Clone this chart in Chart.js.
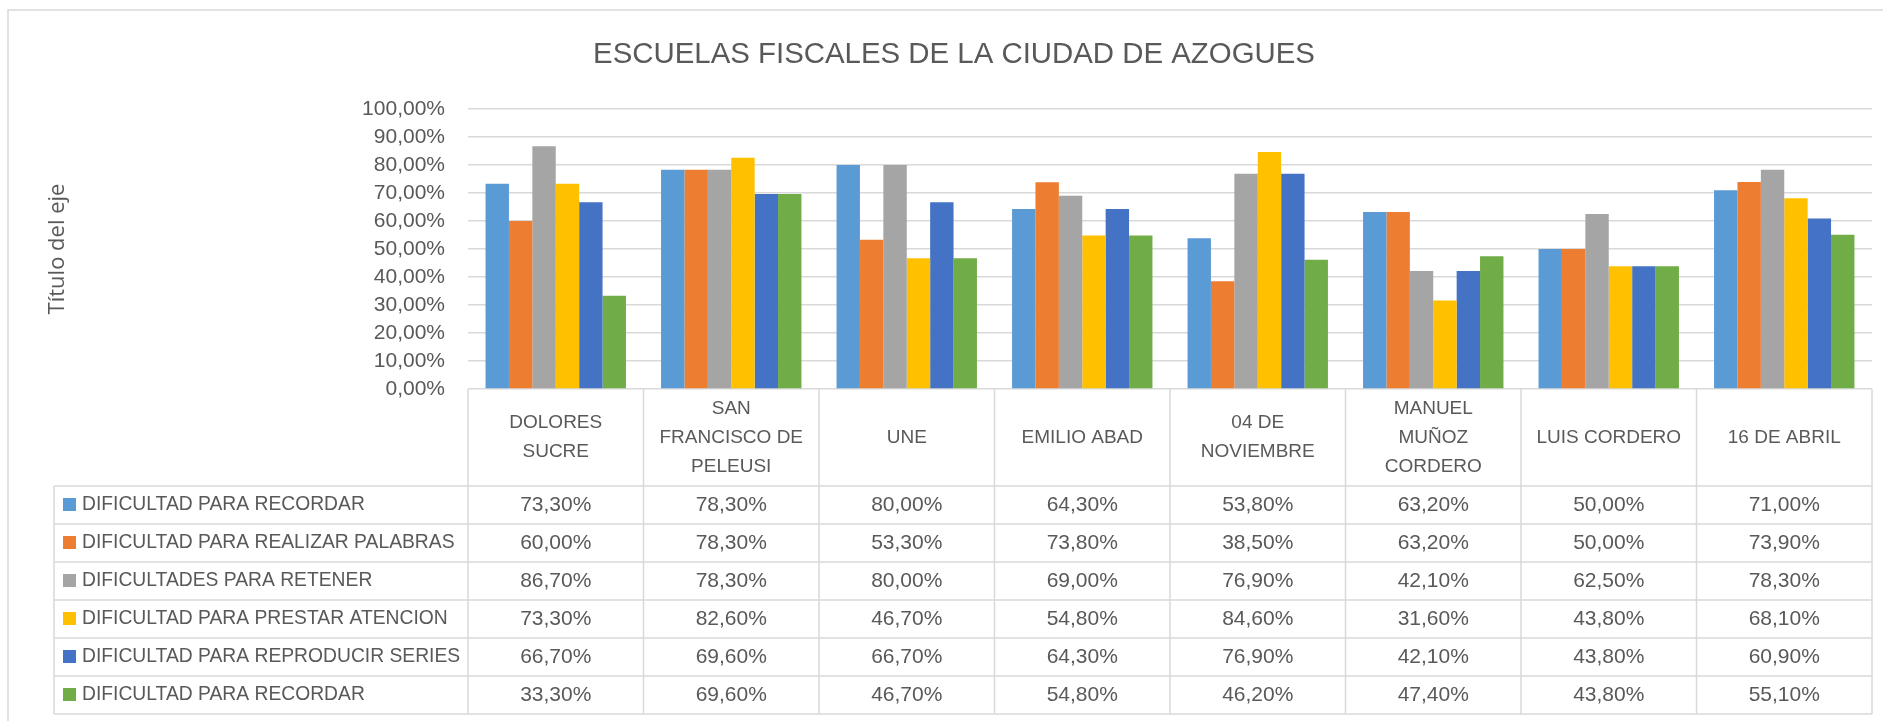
<!DOCTYPE html>
<html>
<head>
<meta charset="utf-8">
<title>Escuelas fiscales de la ciudad de Azogues</title>
<script src="https://cdn.jsdelivr.net/npm/chart.js@4"></script>
<style>
  html, body { margin: 0; padding: 0; background: #fff; }
  #wrap { width: 1883px; height: 721px; position: relative; }
</style>
</head>
<body>
<div id="wrap"><canvas id="escuelasChart"></canvas></div>
<script>
// categorias (escuelas) - arrays = etiquetas en varias lineas
const schools = [
  ["DOLORES", "SUCRE"],
  ["SAN", "FRANCISCO DE", "PELEUSI"],
  ["UNE"],
  ["EMILIO ABAD"],
  ["04 DE", "NOVIEMBRE"],
  ["MANUEL", "MUÑOZ", "CORDERO"],
  ["LUIS CORDERO"],
  ["16 DE ABRIL"]
];
const seriesNames = [
  "DIFICULTAD PARA RECORDAR",
  "DIFICULTAD PARA REALIZAR PALABRAS",
  "DIFICULTADES PARA RETENER",
  "DIFICULTAD PARA PRESTAR ATENCION",
  "DIFICULTAD PARA REPRODUCIR SERIES",
  "DIFICULTAD PARA RECORDAR"
];
const recordar   = [73.3, 78.3, 80.0, 64.3, 53.8, 63.2, 50.0, 71.0];
const palabras   = [60.0, 78.3, 53.3, 73.8, 38.5, 63.2, 50.0, 73.9];
const retener    = [86.7, 78.3, 80.0, 69.0, 76.9, 42.1, 62.5, 78.3];
const atencion   = [73.3, 82.6, 46.7, 54.8, 84.6, 31.6, 43.8, 68.1];
const series     = [66.7, 69.6, 66.7, 64.3, 76.9, 42.1, 43.8, 60.9];
const recordar2  = [33.3, 69.6, 46.7, 54.8, 46.2, 47.4, 43.8, 55.1];
const barColors  = ["#5B9BD5", "#ED7D31", "#A5A5A5", "#FFC000", "#4472C4", "#70AD47"];
const chartTitle = "ESCUELAS FISCALES DE LA CIUDAD DE AZOGUES";

const FONT = "'Liberation Sans', Arial, sans-serif";
const TEXT = "#595959";
const LINE = "#D9D9D9";

function pct(v){
  return v.toFixed(2).replace(".", ",") + "%";
}

// titulo + tabla de datos debajo del grafico (como en excel)
const dataTable = {
  id: "dataTable",
  afterDraw(chart){
    const ctx = chart.ctx;
    const xs = chart.scales.x;
    const area = chart.chartArea;
    const n = chart.data.labels.length;
    const colW = (xs.right - xs.left) / n;
    const headTop = area.bottom;
    const headBottom = 486;
    const rowH = 38;
    const sets = chart.data.datasets;
    const tableLeft = 54;
    const tableBottom = headBottom + sets.length * rowH;

    ctx.save();
    ctx.strokeStyle = LINE;
    ctx.lineWidth = 1.5;
    // marco del grafico
    ctx.strokeRect(8, 10, chart.width + 10, chart.height + 10);

    // titulo (excel lo deja un poco a la derecha del centro)
    ctx.fillStyle = TEXT;
    ctx.textAlign = "center";
    ctx.textBaseline = "middle";
    ctx.font = "29.4px " + FONT;
    ctx.fillText(chartTitle, 954, 55);

    ctx.beginPath();
    for(let r = 0; r <= sets.length; r++){
      const y = headBottom + r * rowH;
      ctx.moveTo(tableLeft, y);
      ctx.lineTo(xs.right, y);
    }
    ctx.moveTo(tableLeft, headBottom);
    ctx.lineTo(tableLeft, tableBottom);
    for(let i = 0; i <= n; i++){
      const x = xs.left + i * colW;
      ctx.moveTo(x, headTop);
      ctx.lineTo(x, tableBottom);
    }
    ctx.stroke();

    ctx.font = "19px " + FONT;
    chart.data.labels.forEach((lab, i) => {
      const lines = Array.isArray(lab) ? lab : [lab];
      const cx = xs.getPixelForValue(i);
      const y0 = (headTop + headBottom) / 2 - (lines.length - 1) * 29 / 2;
      lines.forEach((t, k) => ctx.fillText(t, cx, y0 + k * 29));
    });

    sets.forEach((ds, r) => {
      const cy = headBottom + r * rowH + rowH / 2;
      ctx.fillStyle = ds.backgroundColor;
      ctx.fillRect(63, cy - 7, 13, 13);
      ctx.fillStyle = TEXT;
      ctx.textAlign = "left";
      ctx.font = "19.3px " + FONT;
      ctx.fillText(ds.label, 82, cy);
      ctx.textAlign = "center";
      ctx.font = "21px " + FONT;
      ds.data.forEach((v, i) => {
        ctx.fillText(pct(v), xs.getPixelForValue(i), cy);
      });
    });
    ctx.restore();
  }
};

const allSeries = [recordar, palabras, retener, atencion, series, recordar2];

new Chart("escuelasChart", {
  type: "bar",
  data: {
    labels: schools,
    datasets: allSeries.map((d, i) => ({
      label: seriesNames[i],
      data: d,
      backgroundColor: barColors[i],
      borderWidth: 0,
      categoryPercentage: 0.8,
      barPercentage: 1.0
    }))
  },
  options: {
    responsive: true,
    maintainAspectRatio: false,
    animation: false,
    layout: { padding: { left: 8, right: 11, top: 109, bottom: 332 } },
    plugins: {
      legend: { display: false },
      tooltip: { enabled: false },
      title: { display: false }
    },
    scales: {
      x: {
        display: false
      },
      y: {
        min: 0,
        max: 100,
        border: { display: false },
        grid: { color: LINE, lineWidth: 1.5, drawTicks: false },
        ticks: {
          stepSize: 10,
          autoSkip: false,
          padding: 23,
          color: TEXT,
          font: { family: FONT, size: 21, lineHeight: 1 },
          callback: v => pct(v)
        },
        title: {
          display: true,
          text: "Título del eje",
          color: TEXT,
          font: { family: "'Open Sans', sans-serif", size: 22, lineHeight: 1.2 },
          padding: { top: 37, bottom: 0 }
        },
        afterFit(scale){
          scale.width = 460;
        }
      }
    }
  },
  plugins: [dataTable]
});
</script>
</body>
</html>
